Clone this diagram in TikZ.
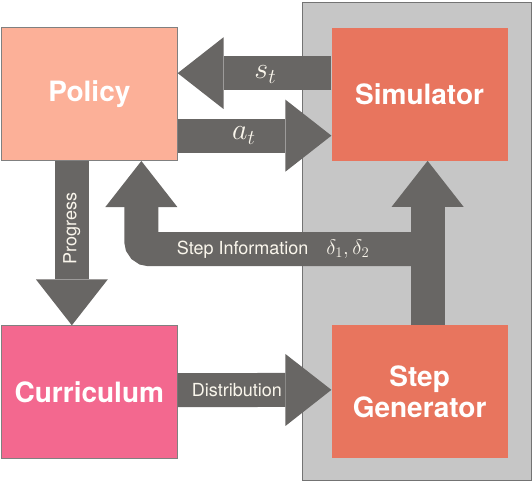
\documentclass[tikz,border=0pt]{standalone}
\usepackage{fix-cm}
\usepackage{amsmath}
\usepackage[no-math]{fontspec}
\setmainfont{TeX Gyre Heros}
\usepackage{tikz}
\usetikzlibrary{calc, arrows.meta, positioning, backgrounds}
\definecolor{policycol}{RGB}{252,176,152}
\definecolor{simcol}{RGB}{232,117,94}
\definecolor{currcol}{RGB}{243,104,143}
\definecolor{envgray}{RGB}{198,198,198}
\definecolor{fatgray}{RGB}{104,102,100}
\definecolor{labelcol}{RGB}{250,246,236}
\tikzset{
    node distance = 164.3pt and 153.7pt, % vertical and horizontal gap between the blocks
    block/.style = {rectangle, minimum width=176pt, minimum height=133pt, inner sep=0pt,
                    align=center, text=white, font=\fontsize{28}{31}\selectfont\bfseries},
    outlined/.style = {draw=black!50, line width=0.7pt},
    fat/.style = {draw=fatgray, line width=34pt,
                  -{Triangle[length=46pt, width=72pt, line width=0pt]}}, % the big grey arrows
    fatlabel/.style = {text=labelcol, inner sep=0pt, font=\fontsize{18}{18}\selectfont},
    mathlabel/.style = {text=labelcol, inner sep=0pt, font=\fontsize{30}{30}\selectfont}
}
\begin{document}
\begin{tikzpicture}
  \node [block, fill=policycol, outlined] (policy) {Policy};
  \node [block, fill=simcol, right=of policy] (sim) {Simulator};
  \node [block, fill=currcol, outlined, below=of policy] (curr) {Curriculum};
  \node [block, fill=simcol, below=of sim] (stepgen) {Step\\Generator};
  \useasboundingbox ($(policy.north west)+(-1pt,27.3pt)$) rectangle ($(policy.north west)+(531pt,-454.7pt)$);
  % grey frame round simulator and step generator
  \begin{scope}[on background layer]
    \draw [draw=black!55, line width=1pt, fill=envgray]
      ($(sim.north west)+(-28.7pt,24.7pt)$) rectangle ($(stepgen.south east)+(23.8pt,-22.2pt)$);
  \end{scope}
  \coordinate (split) at ([xshift=8pt, yshift=76pt]stepgen.north);
  \draw [fat] ([yshift=21pt]sim.west) -- node [mathlabel, pos=0.43, yshift=-1.5pt] {$s_t$} ([yshift=21pt]policy.east);
  \draw [fat] ([yshift=-41.5pt]policy.east) -- node [mathlabel, pos=0.43] {$a_t$} ([yshift=-41.5pt]sim.west);
  \draw [fat] ([xshift=-17.5pt]policy.south) -- node [fatlabel, rotate=90, pos=0.41] {Progress} ([xshift=-17.5pt]curr.north);
  \draw [fat, rounded corners=8pt] (split) -| node [fatlabel, pos=0.27]
    {Step Information\quad{\fontsize{21}{21}\selectfont$\delta_1, \delta_2$}} ([xshift=52pt]policy.south);
  \draw [fat] ([xshift=8pt]stepgen.north) -- ([xshift=8pt]sim.south);
  \draw [fat] ([yshift=2pt]curr.east) -- node [fatlabel, pos=0.385] {Distribution} ([yshift=2pt]stepgen.west);
\end{tikzpicture}
\end{document}
